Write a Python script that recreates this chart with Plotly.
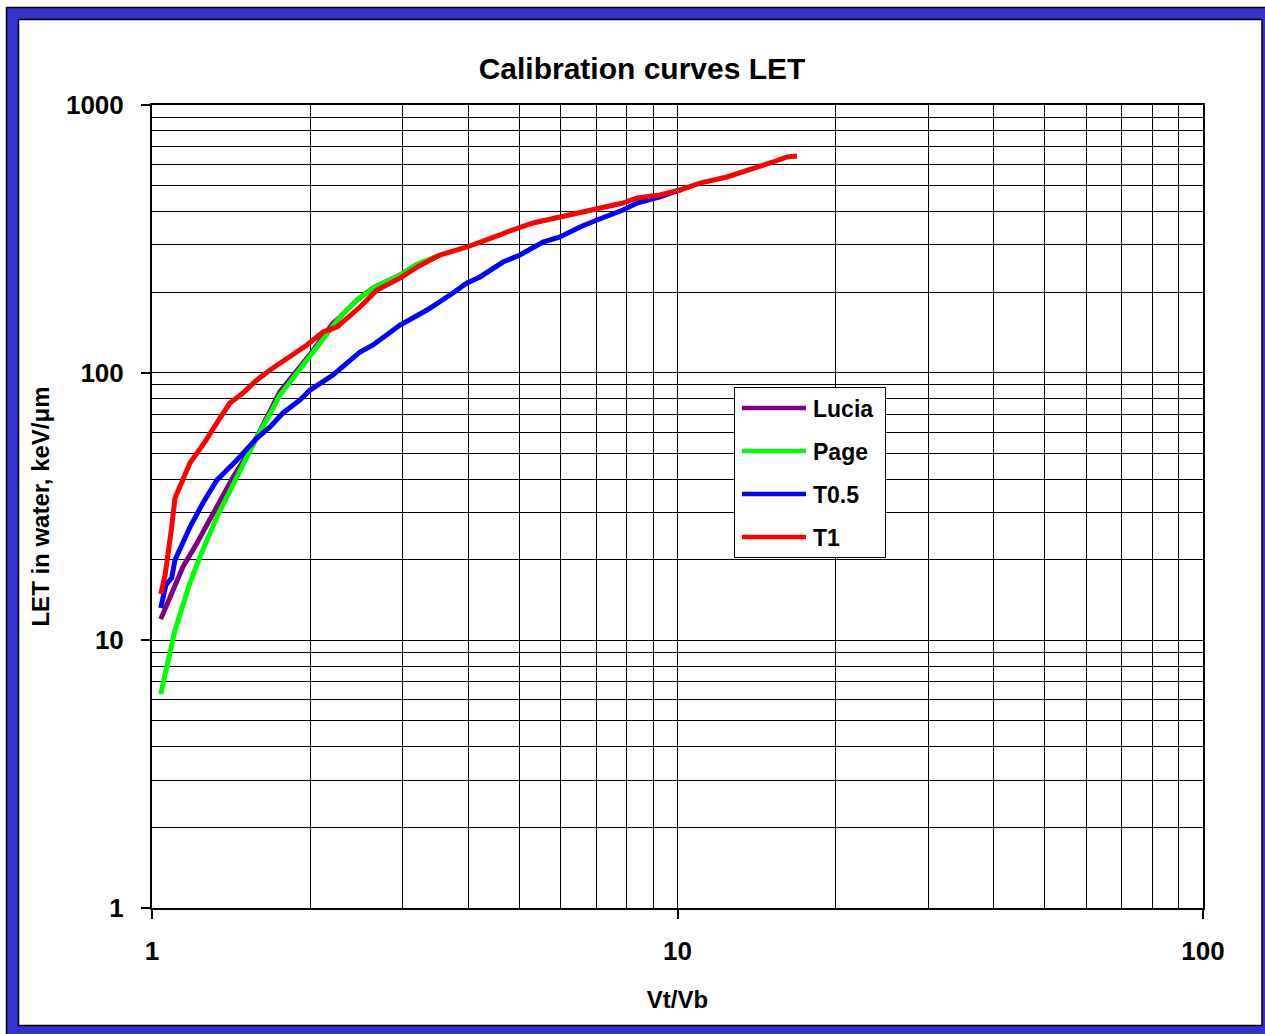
import plotly.graph_objects as go

# ---------------- data ----------------
series_names = ["Lucia", "Page", "T0.5", "T1"]
series_colors = ["#800080", "#00FF00", "#0000FF", "#FF0000"]

lucia_x = [1.039, 1.090, 1.145, 1.218, 1.329, 1.426, 1.537, 1.626, 1.752, 1.999, 2.210, 2.279, 2.455, 2.634, 2.965, 3.194]
lucia_y = [12.0, 14.8, 18.8, 23.1, 32.0, 40.7, 51.4, 63.5, 85.0, 117.0, 153.0, 161.4, 186.8, 207.2, 231.6, 254.0]

page_x = [1.039, 1.106, 1.181, 1.234, 1.329, 1.451, 1.584, 1.677, 1.752, 1.999, 2.210, 2.279, 2.455, 2.634, 2.965, 3.194, 3.532]
page_y = [6.30, 10.9, 16.4, 20.5, 28.9, 40.7, 57.5, 70.1, 82.5, 115.4, 150.7, 161.4, 186.8, 207.2, 231.6, 254.0, 275.2]

t05_x = [1.039, 1.063, 1.090, 1.106, 1.181, 1.250, 1.329, 1.451, 1.584, 1.677, 1.775, 1.913, 1.999, 2.210, 2.488,
         2.634, 2.965, 3.337, 3.691, 3.976, 4.209, 4.655, 5.013, 5.547, 5.976, 6.524, 7.028, 7.875, 8.374, 9.262, 10.11]
t05_y = [13.2, 16.1, 17.1, 19.96, 26.5, 32.6, 39.7, 47.2, 57.0, 62.7, 70.7, 79.1, 86.1, 98.0, 119.5,
         126.9, 150.7, 171.4, 195.0, 216.3, 227.8, 259.0, 275.2, 307.7, 321.2, 350.2, 371.9, 405.3, 430.4, 453.3, 481.4]

t1_x = [1.039, 1.059, 1.090, 1.106, 1.181, 1.261, 1.347, 1.407, 1.490, 1.584, 1.677, 1.806, 1.972, 2.116, 2.249,
        2.488, 2.681, 2.965, 3.194, 3.532, 3.976, 4.594, 4.737, 5.309, 5.976, 6.610, 7.121, 7.875, 8.374, 9.262,
        10.11, 11.04, 12.42, 13.74, 15.19, 16.16, 16.88]
t1_y = [14.9, 17.5, 26.5, 34.0, 46.0, 55.1, 67.7, 77.0, 83.9, 93.9, 102.3, 113.4, 126.9, 141.9, 148.1,
        175.9, 203.6, 225.8, 248.1, 275.2, 294.8, 326.9, 335.4, 362.4, 381.6, 398.3, 415.8, 430.4, 449.3, 461.1,
        481.4, 511.0, 538.3, 571.7, 612.4, 639.3, 645.0]

x_tick_vals = [1, 10, 100]
x_tick_text = ["1", "10", "100"]
y_tick_vals = [1, 10, 100, 1000]
y_tick_text = ["1", "10", "100", "1000"]

title_text = "Calibration curves LET"
x_title = "Vt/Vb"
y_title = "LET in water, keV/μm"

series = [(lucia_x, lucia_y), (page_x, page_y), (t05_x, t05_y), (t1_x, t1_y)]

# ---------------- figure ----------------
W, H = 1265, 1034
L, R, T, B = 152, 62, 105, 126
PW, PH = W - L - R, H - T - B


def px(xp):
    return (xp - L) / PW


def py(yp):
    return (H - B - yp) / PH


FONT = "Liberation Sans, Arial, sans-serif"

fig = go.Figure()
for (xs, ys), name, col in zip(series, series_names, series_colors):
    fig.add_trace(go.Scatter(x=xs, y=ys, mode="lines", name=name,
                             line=dict(color=col, width=5), showlegend=False,
                             hoverinfo="skip"))

minor_x = [m * 10 ** e for e in range(0, 2) for m in range(2, 10)]
minor_y = [m * 10 ** e for e in range(0, 3) for m in range(2, 10)]

axis_common = dict(
    showline=True, linecolor="black", linewidth=2, mirror=True,
    showgrid=True, gridcolor="black", gridwidth=1,
    ticks="outside", ticklen=9, tickwidth=1.5, tickcolor="black",
    zeroline=False,
    tickfont=dict(family=FONT, size=26, color="black", weight="bold"),
)

fig.update_xaxes(type="log", range=[0, 2], tickvals=x_tick_vals, ticktext=x_tick_text,
                 minor=dict(tickvals=minor_x, showgrid=True, gridcolor="black", gridwidth=1, ticks=""),
                 ticklabelstandoff=10,
                 title=dict(text=x_title, standoff=26,
                            font=dict(family=FONT, size=24, color="black", weight="bold")),
                 **axis_common)
fig.update_yaxes(type="log", range=[0, 3], tickvals=y_tick_vals, ticktext=y_tick_text,
                 minor=dict(tickvals=minor_y, showgrid=True, gridcolor="black", gridwidth=1, ticks=""),
                 ticklabelstandoff=12,
                 title=dict(text=y_title, standoff=10,
                            font=dict(family=FONT, size=24, color="black", weight="bold")),
                 **axis_common)

shapes = [
    # blue outer frame
    dict(type="rect", xref="paper", yref="paper", layer="below",
         x0=px(6.5), x1=px(1300), y0=py(1060), y1=py(7.5),
         fillcolor="#3333CC", line=dict(color="black", width=1.5)),
    # white chart area
    dict(type="rect", xref="paper", yref="paper", layer="below",
         x0=px(18.5), x1=px(1262), y0=py(1025.5), y1=py(19.5),
         fillcolor="white", line=dict(color="black", width=1.5)),
    # legend box
    dict(type="rect", xref="paper", yref="paper", layer="above",
         x0=px(734.5), x1=px(885.5), y0=py(557.5), y1=py(387.5),
         fillcolor="white", line=dict(color="black", width=1)),
]
annotations = []
row_y = [408, 451, 494, 537]
for name, col, ry in zip(series_names, series_colors, row_y):
    shapes.append(dict(type="line", xref="paper", yref="paper", layer="above",
                       x0=px(742), x1=px(806), y0=py(ry), y1=py(ry),
                       line=dict(color=col, width=4.5)))
    annotations.append(dict(xref="paper", yref="paper", x=px(811), y=py(ry + 1),
                            xanchor="left", yanchor="middle", showarrow=False,
                            text=name,
                            font=dict(family=FONT, size=23, color="black", weight="bold")))

fig.update_layout(
    width=W, height=H,
    margin=dict(l=L, r=R, t=T, b=B, pad=0),
    paper_bgcolor="white", plot_bgcolor="rgba(0,0,0,0)",
    title=dict(text=title_text, x=642 / W, xref="container", xanchor="center",
               y=1 - 68 / H, yref="container", yanchor="middle",
               font=dict(family=FONT, size=30, color="black", weight="bold")),
    shapes=shapes, annotations=annotations,
    showlegend=False, hovermode=False,
)

fig.write_html("out.html", config={"displayModeBar": False},
               post_script="document.body.style.margin='0px';document.body.style.overflow='hidden';")
